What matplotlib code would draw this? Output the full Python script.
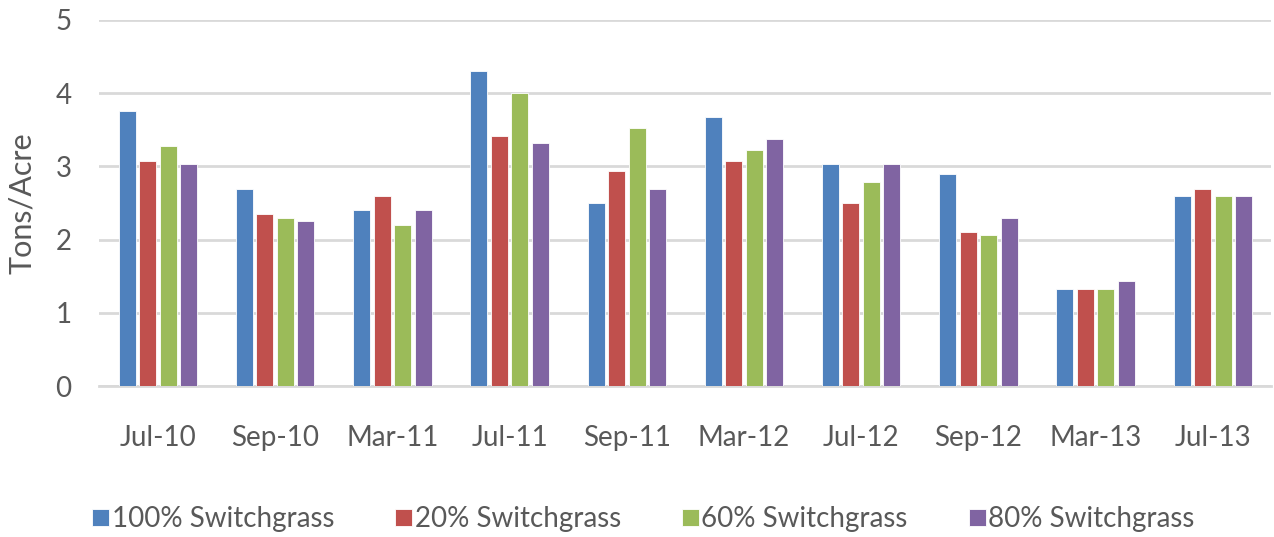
import matplotlib
matplotlib.use("Agg")
import matplotlib.pyplot as plt
import numpy as np

# data
dates = ["Jul-10", "Sep-10", "Mar-11", "Jul-11", "Sep-11",
         "Mar-12", "Jul-12", "Sep-12", "Mar-13", "Jul-13"]
sg100 = [3.76, 2.69, 2.40, 4.30, 2.50, 3.67, 3.03, 2.89, 1.33, 2.60]
sg20 = [3.08, 2.35, 2.59, 3.42, 2.94, 3.08, 2.50, 2.11, 1.33, 2.69]
sg60 = [3.28, 2.30, 2.20, 4.00, 3.52, 3.22, 2.79, 2.06, 1.33, 2.60]
sg80 = [3.03, 2.25, 2.40, 3.32, 2.69, 3.37, 3.03, 2.30, 1.43, 2.60]
series_names = ["100% Switchgrass", "20% Switchgrass", "60% Switchgrass", "80% Switchgrass"]
colors = ["#4F81BD", "#C0504D", "#9BBB59", "#8064A2"]

plt.rcParams['font.family'] = ['Lato', 'DejaVu Sans']
text_col = "#595959"

fig = plt.figure(figsize=(12.74, 5.37), dpi=100)
ax = fig.add_axes([0.078, 0.281, 0.92, 0.682])

x = np.arange(len(dates))
step = 0.175
width = 0.145
for i, (vals, name, c) in enumerate(zip([sg100, sg20, sg60, sg80], series_names, colors)):
    ax.bar(x + (i - 1.5) * step, vals, width, color=c, label=name,
           edgecolor="white", linewidth=0.6, zorder=3)

ax.set_xlim(-0.5, len(dates) - 0.5)
ax.set_ylim(0, 5)
ax.set_yticks(range(6))
ax.set_xticks(x)
ax.set_xticklabels(dates)
ax.yaxis.grid(True, color="#D9D9D9", linewidth=2, zorder=0)
for s in ["top", "right", "left"]:
    ax.spines[s].set_visible(False)
ax.spines["bottom"].set_color("#D9D9D9")
ax.spines["bottom"].set_linewidth(2)
ax.tick_params(axis="both", length=0, colors=text_col, labelsize=20)
ax.tick_params(axis="x", pad=28)
ax.tick_params(axis="y", pad=20)
ax.set_ylabel("Tons/Acre", fontsize=22, color=text_col, labelpad=14)

leg = fig.legend(loc="center", bbox_to_anchor=(0.505, 0.033), ncol=4, frameon=False,
                 fontsize=20, handlelength=0.6, handleheight=0.6, handletextpad=0.1,
                 columnspacing=2.2)
for t in leg.get_texts():
    t.set_color(text_col)

fig.savefig("out.png", dpi=100)
